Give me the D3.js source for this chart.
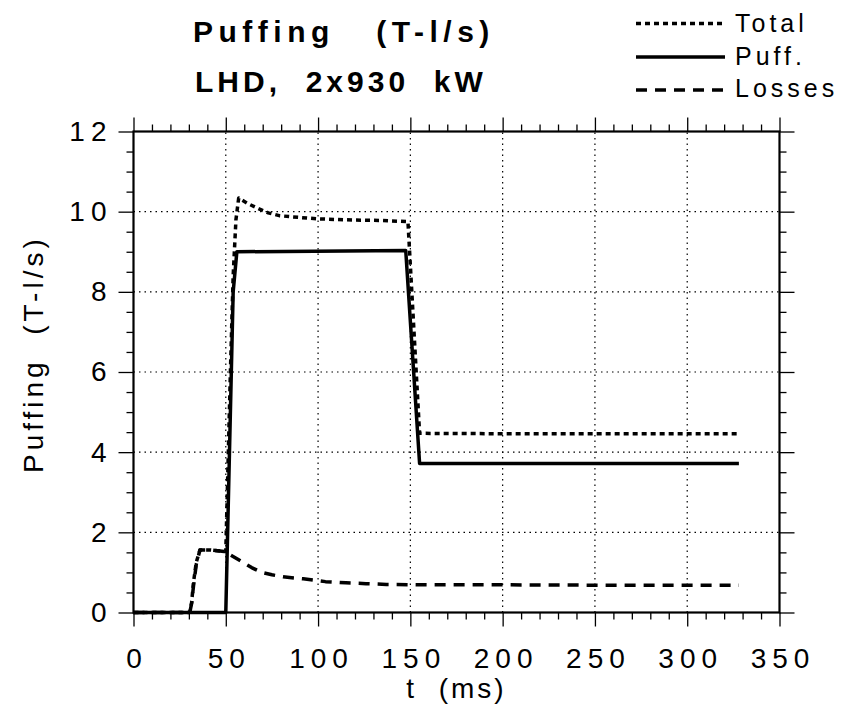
<!DOCTYPE html>
<html>
<head>
<meta charset="utf-8">
<script src="https://cdn.jsdelivr.net/npm/d3@7"></script>
<style>
  body { margin: 0; background: #fff; }
  svg text { font-family: "Liberation Sans", Arial, Helvetica, sans-serif; fill: #000; white-space: pre; }
</style>
</head>
<body>
<div id="chart"></div>
<script>
// Puffing curves (t in ms, value in T-l/s)
const tTotal = [0, 30.5, 31.5, 32.5, 34, 36, 42, 50, 52.5, 54, 55.5, 57, 62, 68, 73, 79, 86, 100, 120, 135, 148.7, 155, 200, 328];
const vTotal = [0, 0, 0.25, 0.75, 1.25, 1.56, 1.56, 1.52, 6, 8.4, 9.8, 10.34, 10.2, 10.07, 9.97, 9.9, 9.87, 9.82, 9.79, 9.78, 9.75, 4.47, 4.46, 4.46];

const tPuff = [0, 50, 54, 56, 147.5, 155, 328];
const vPuff = [0, 0, 8, 9, 9.03, 3.72, 3.72];

const tLoss = [0, 30.5, 31.5, 32.5, 34, 36, 42, 50, 52, 58.6, 64, 69.4, 75, 81, 92, 104, 115, 126, 137, 160, 200, 260, 328];
const vLoss = [0, 0, 0.23, 0.66, 1.2, 1.56, 1.56, 1.52, 1.45, 1.27, 1.12, 1.0, 0.94, 0.89, 0.84, 0.77, 0.74, 0.72, 0.70, 0.69, 0.69, 0.68, 0.68];

const xMajor = [0, 50, 100, 150, 200, 250, 300, 350];
const yMajor = [0, 2, 4, 6, 8, 10, 12];

const width = 851, height = 714;

const svg = d3.select('#chart')
  .append('svg')
  .attr('width', width)
  .attr('height', height);

const x = d3.scaleLinear().domain([0, 350]).range([133.5, 779.5]);
const y = d3.scaleLinear().domain([0, 12]).range([612.5, 131.5]);

const xMinor = d3.range(0, 351, 10).filter(v => v % 50 !== 0);
const yMinor = d3.range(0, 12.01, 0.5).filter(v => v % 2 !== 0);

// dotted grid
const grid = svg.append('g').attr('stroke', '#000').attr('stroke-width', 1.2).attr('stroke-dasharray', '1.5,4');
grid.selectAll('.gx').data(xMajor.slice(1, -1)).enter().append('line')
  .attr('x1', d => x(d)).attr('x2', d => x(d))
  .attr('y1', y(0)).attr('y2', y(12));
grid.selectAll('.gy').data(yMajor.slice(1, -1)).enter().append('line')
  .attr('x1', x(0)).attr('x2', x(350))
  .attr('y1', d => y(d)).attr('y2', d => y(d));

// axes: major + minor ticks on all four sides
function styleAxis(g) {
  g.select('.domain').remove();
  g.selectAll('line').attr('stroke', '#000').attr('stroke-width', 1.3);
}
const fmt = d3.format('d');

svg.append('g').attr('transform', `translate(0,${y(0)})`)
  .call(d3.axisBottom(x).tickValues(xMajor).tickSize(14).tickPadding(22).tickFormat(fmt))
  .call(styleAxis)
  .selectAll('text').attr('font-size', 28).attr('letter-spacing', 6).attr('dx', 3);
svg.append('g').attr('transform', `translate(0,${y(0)})`)
  .call(d3.axisBottom(x).tickValues(xMinor).tickSize(7).tickFormat(''))
  .call(styleAxis);
svg.append('g').attr('transform', `translate(0,${y(12)})`)
  .call(d3.axisTop(x).tickValues(xMajor).tickSize(14).tickFormat(''))
  .call(styleAxis);
svg.append('g').attr('transform', `translate(0,${y(12)})`)
  .call(d3.axisTop(x).tickValues(xMinor).tickSize(7).tickFormat(''))
  .call(styleAxis);

svg.append('g').attr('transform', `translate(${x(0)},0)`)
  .call(d3.axisLeft(y).tickValues(yMajor).tickSize(15).tickPadding(6).tickFormat(fmt))
  .call(styleAxis)
  .selectAll('text').attr('font-size', 28).attr('letter-spacing', 6);
svg.append('g').attr('transform', `translate(${x(0)},0)`)
  .call(d3.axisLeft(y).tickValues(yMinor).tickSize(7).tickFormat(''))
  .call(styleAxis);
svg.append('g').attr('transform', `translate(${x(350)},0)`)
  .call(d3.axisRight(y).tickValues(yMajor).tickSize(15).tickFormat(''))
  .call(styleAxis);
svg.append('g').attr('transform', `translate(${x(350)},0)`)
  .call(d3.axisRight(y).tickValues(yMinor).tickSize(7).tickFormat(''))
  .call(styleAxis);

// frame
svg.append('rect')
  .attr('x', x(0)).attr('y', y(12))
  .attr('width', x(350) - x(0)).attr('height', y(0) - y(12))
  .attr('fill', 'none').attr('stroke', '#000').attr('stroke-width', 2.2);

// curves
const series = [
  { name: 'Total', t: tTotal, v: vTotal, dash: '5,4' },
  { name: 'Puff.', t: tPuff, v: vPuff, dash: null },
  { name: 'Losses', t: tLoss, v: vLoss, dash: '11,8' }
];

const line = d3.line().x(d => x(d[0])).y(d => y(d[1]));

series.forEach(s => {
  svg.append('path')
    .datum(s.t.map((t, i) => [t, s.v[i]]))
    .attr('d', line)
    .attr('fill', 'none')
    .attr('stroke', '#000')
    .attr('stroke-width', 3.5)
    .attr('stroke-linejoin', 'round')
    .attr('stroke-dasharray', s.dash);
});

// legend
const legendY = [23.5, 57, 90];
const legendText = [31.5, 65, 97];
series.forEach((s, i) => {
  svg.append('line')
    .attr('x1', 636).attr('x2', 725)
    .attr('y1', legendY[i]).attr('y2', legendY[i])
    .attr('stroke', '#000').attr('stroke-width', 3.5)
    .attr('stroke-dasharray', s.dash);
  svg.append('text')
    .attr('x', 735).attr('y', legendText[i])
    .attr('font-size', 25).attr('letter-spacing', 4)
    .text(s.name);
});

// title
svg.append('text').attr('x', 193).attr('y', 42)
  .attr('font-size', 30).attr('font-weight', 'bold').attr('letter-spacing', 5.5)
  .text('Puffing   (T-l/s)');
svg.append('text').attr('x', 195).attr('y', 92)
  .attr('font-size', 30).attr('font-weight', 'bold').attr('letter-spacing', 4)
  .text('LHD,  2x930  kW');

// axis titles
svg.append('text')
  .attr('x', (x(0) + x(350)) / 2).attr('y', 698)
  .attr('text-anchor', 'middle')
  .attr('font-size', 28).attr('letter-spacing', 3)
  .text('t  (ms)');
svg.append('text')
  .attr('transform', `translate(43,473) rotate(-90)`)
  .attr('font-size', 28).attr('letter-spacing', 4)
  .text('Puffing  (T-l/s)');
</script>
</body>
</html>
